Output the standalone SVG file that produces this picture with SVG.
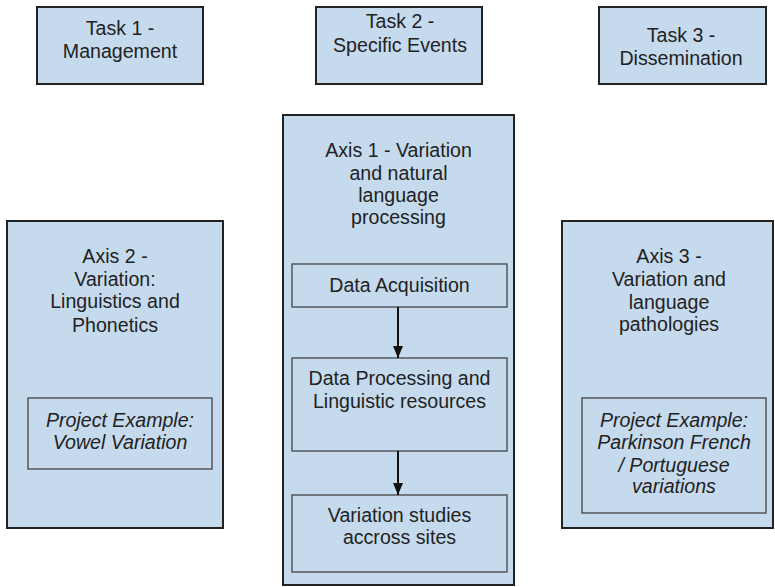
<svg xmlns="http://www.w3.org/2000/svg" width="775" height="587" viewBox="0 0 775 587">
<style>
.outer{fill:#c6daee;stroke:#222;stroke-width:2}
.inner{fill:#c6daee;stroke:#444;stroke-width:1.3}
text{font-family:"Liberation Sans",Arial,sans-serif;font-size:19.6px;fill:#222;text-anchor:middle}
.it{font-style:italic}
.conn{stroke:#111;stroke-width:2;fill:none}
</style>
<defs>
<marker id="ah" markerWidth="12" markerHeight="10" refX="12" refY="5" orient="auto" markerUnits="userSpaceOnUse" viewBox="0 0 12 10">
<path d="M0,0 L12,5 L0,10 Z" fill="#111"/>
</marker>
</defs>
<rect width="775" height="587" fill="#fff"/>
<g id="task1">
<rect class="outer" x="37" y="7" width="166" height="77"/>
<text x="120" y="35">Task 1 -</text>
<text x="120" y="58">Management</text>
</g>
<g id="task2">
<rect class="outer" x="316" y="7" width="166" height="77"/>
<text x="400" y="28">Task 2 -</text>
<text x="400" y="52">Specific Events</text>
</g>
<g id="task3">
<rect class="outer" x="599" y="7" width="167" height="77"/>
<text x="681" y="42">Task 3 -</text>
<text x="681" y="65">Dissemination</text>
</g>
<g id="axis2">
<rect class="outer" x="7" y="221" width="216" height="307"/>
<text x="115" y="263">Axis 2 -</text>
<text x="115" y="286">Variation:</text>
<text x="115" y="308">Linguistics and</text>
<text x="115" y="332">Phonetics</text>
</g>
<g id="axis2-example">
<rect class="inner" x="28" y="398" width="184" height="71"/>
<text class="it" x="120" y="427">Project Example:</text>
<text class="it" x="120" y="449">Vowel Variation</text>
</g>
<g id="axis1">
<rect class="outer" x="283" y="115" width="231" height="470"/>
<text x="398.5" y="157">Axis 1 - Variation</text>
<text x="398.5" y="180">and natural</text>
<text x="398.5" y="202">language</text>
<text x="398.5" y="224">processing</text>
</g>
<g id="data-acquisition">
<rect class="inner" x="292" y="264" width="215" height="43"/>
<text x="399.5" y="292">Data Acquisition</text>
</g>
<g id="data-processing">
<rect class="inner" x="292" y="358" width="215" height="93"/>
<text x="399.5" y="385">Data Processing and</text>
<text x="399.5" y="408">Linguistic resources</text>
</g>
<g id="variation-studies">
<rect class="inner" x="292" y="495" width="215" height="77"/>
<text x="399.5" y="522">Variation studies</text>
<text x="399.5" y="544">accross sites</text>
</g>
<g id="axis3">
<rect class="outer" x="562" y="221" width="211" height="307"/>
<text x="669" y="263">Axis 3 -</text>
<text x="669" y="286">Variation and</text>
<text x="669" y="309">language</text>
<text x="669" y="331">pathologies</text>
</g>
<g id="axis3-example">
<rect class="inner" x="582" y="398" width="184" height="115"/>
<text class="it" x="674" y="427">Project Example:</text>
<text class="it" x="674" y="449">Parkinson French</text>
<text class="it" x="674" y="472">/ Portuguese</text>
<text class="it" x="674" y="493">variations</text>
</g>
<g id="connectors">
<line class="conn" x1="398" y1="307" x2="398" y2="358" marker-end="url(#ah)"/>
<line class="conn" x1="398" y1="451" x2="398" y2="495" marker-end="url(#ah)"/>
</g>
</svg>
